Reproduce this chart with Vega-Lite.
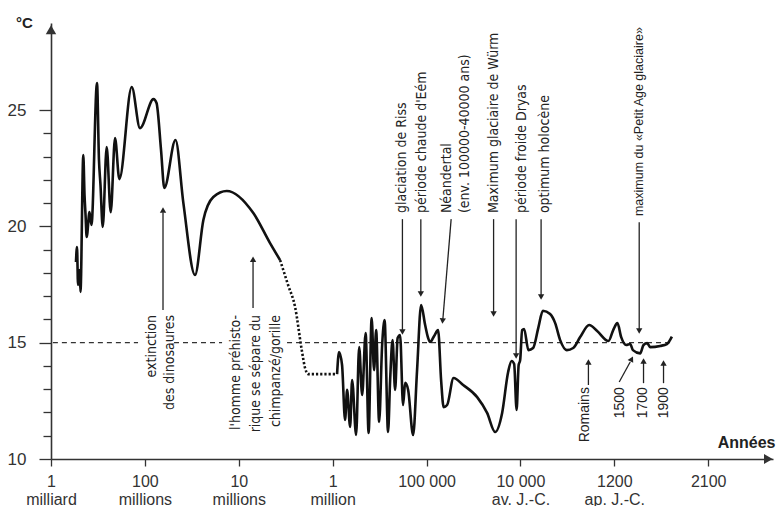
{
  "$schema": "https://vega.github.io/schema/vega-lite/v6.json",
  "width": 722,
  "height": 436,
  "autosize": {"type": "none"},
  "padding": {"left": 51, "top": 23, "right": 7, "bottom": 47},
  "background": "white",
  "config": {"view": {"stroke": null}, "font": "Liberation Sans"},
  "datasets": {
    "curve": [
      {"x":0.266,"t":18.47,"seg":"a"},{"x":0.277,"t":19.11,"seg":"a"},{"x":0.288,"t":17.48,"seg":"a"},{"x":0.304,"t":18.12,"seg":"a"},{"x":0.314,"t":17.18,"seg":"a"},{"x":0.344,"t":23.06,"seg":"a"},{"x":0.357,"t":21.35,"seg":"a"},{"x":0.368,"t":20.49,"seg":"a"},{"x":0.380,"t":19.54,"seg":"a"},{"x":0.410,"t":20.61,"seg":"a"},{"x":0.431,"t":20.06,"seg":"a"},{"x":0.490,"t":26.16,"seg":"a"},{"x":0.511,"t":22.85,"seg":"a"},{"x":0.527,"t":21.78,"seg":"a"},{"x":0.551,"t":19.97,"seg":"a"},{"x":0.593,"t":23.41,"seg":"a"},{"x":0.636,"t":20.61,"seg":"a"},{"x":0.682,"t":23.79,"seg":"a"},{"x":0.728,"t":22.03,"seg":"a"},{"x":0.860,"t":25.99,"seg":"a"},{"x":0.948,"t":24.22,"seg":"a"},{"x":1.092,"t":25.47,"seg":"a"},{"x":1.124,"t":25.30,"seg":"a"},{"x":1.172,"t":23.28,"seg":"a"},{"x":1.207,"t":21.65,"seg":"a"},{"x":1.326,"t":23.71,"seg":"a"},{"x":1.410,"t":21.00,"seg":"a"},{"x":1.534,"t":17.91,"seg":"a"},{"x":1.623,"t":20.27,"seg":"a"},{"x":1.729,"t":21.26,"seg":"a"},{"x":1.872,"t":21.52,"seg":"a"},{"x":2.155,"t":20.57,"seg":"a"},{"x":2.333,"t":19.28,"seg":"a"},{"x":2.440,"t":18.55,"seg":"a"},
      {"x":2.440,"t":18.55,"seg":"b"},{"x":2.525,"t":17.48,"seg":"b"},{"x":2.600,"t":16.53,"seg":"b"},{"x":2.671,"t":14.68,"seg":"b"},{"x":2.706,"t":13.91,"seg":"b"},{"x":2.738,"t":13.65,"seg":"b"},{"x":3.047,"t":13.65,"seg":"b"},
      {"x":3.047,"t":13.65,"seg":"c"},{"x":3.068,"t":14.60,"seg":"c"},{"x":3.100,"t":14.04,"seg":"c"},{"x":3.132,"t":11.68,"seg":"c"},{"x":3.154,"t":12.97,"seg":"c"},{"x":3.186,"t":11.38,"seg":"c"},{"x":3.207,"t":13.39,"seg":"c"},{"x":3.250,"t":11.03,"seg":"c"},{"x":3.282,"t":14.81,"seg":"c"},{"x":3.314,"t":12.75,"seg":"c"},{"x":3.351,"t":15.41,"seg":"c"},{"x":3.383,"t":11.12,"seg":"c"},{"x":3.415,"t":16.06,"seg":"c"},{"x":3.441,"t":13.82,"seg":"c"},{"x":3.463,"t":15.54,"seg":"c"},{"x":3.495,"t":11.59,"seg":"c"},{"x":3.527,"t":14.90,"seg":"c"},{"x":3.553,"t":15.97,"seg":"c"},{"x":3.590,"t":11.16,"seg":"c"},{"x":3.612,"t":13.39,"seg":"c"},{"x":3.638,"t":15.11,"seg":"c"},{"x":3.665,"t":12.97,"seg":"c"},{"x":3.692,"t":15.20,"seg":"c"},{"x":3.718,"t":15.33,"seg":"c"},{"x":3.750,"t":12.32,"seg":"c"},{"x":3.772,"t":13.27,"seg":"c"},{"x":3.804,"t":12.97,"seg":"c"},{"x":3.857,"t":11.03,"seg":"c"},{"x":3.899,"t":13.82,"seg":"c"},{"x":3.942,"t":16.62,"seg":"c"},{"x":3.985,"t":15.76,"seg":"c"},{"x":4.017,"t":15.20,"seg":"c"},{"x":4.038,"t":15.03,"seg":"c"},{"x":4.081,"t":15.29,"seg":"c"},{"x":4.123,"t":15.54,"seg":"c"},{"x":4.155,"t":13.39,"seg":"c"},{"x":4.182,"t":12.23,"seg":"c"},{"x":4.219,"t":12.32,"seg":"c"},{"x":4.288,"t":13.48,"seg":"c"},{"x":4.390,"t":13.18,"seg":"c"},{"x":4.539,"t":12.66,"seg":"c"},{"x":4.645,"t":11.98,"seg":"c"},{"x":4.730,"t":11.16,"seg":"c"},{"x":4.805,"t":11.98,"seg":"c"},{"x":4.869,"t":13.74,"seg":"c"},{"x":4.906,"t":14.21,"seg":"c"},{"x":4.933,"t":14.08,"seg":"c"},{"x":4.959,"t":12.11,"seg":"c"},{"x":4.981,"t":14.04,"seg":"c"},{"x":4.997,"t":14.25,"seg":"c"},{"x":5.018,"t":15.54,"seg":"c"},{"x":5.039,"t":15.59,"seg":"c"},{"x":5.085,"t":14.68,"seg":"c"},{"x":5.135,"t":14.77,"seg":"c"},{"x":5.192,"t":15.67,"seg":"c"},{"x":5.239,"t":16.37,"seg":"c"},{"x":5.316,"t":16.23,"seg":"c"},{"x":5.370,"t":15.84,"seg":"c"},{"x":5.423,"t":15.11,"seg":"c"},{"x":5.494,"t":14.68,"seg":"c"},{"x":5.562,"t":14.77,"seg":"c"},{"x":5.636,"t":15.24,"seg":"c"},{"x":5.732,"t":15.76,"seg":"c"},{"x":5.817,"t":15.50,"seg":"c"},{"x":5.938,"t":15.07,"seg":"c"},{"x":5.988,"t":15.54,"seg":"c"},{"x":6.033,"t":15.84,"seg":"c"},{"x":6.073,"t":15.24,"seg":"c"},{"x":6.126,"t":14.90,"seg":"c"},{"x":6.169,"t":14.94,"seg":"c"},{"x":6.198,"t":14.68,"seg":"c"},{"x":6.275,"t":14.54,"seg":"c"},{"x":6.311,"t":14.90,"seg":"c"},{"x":6.350,"t":14.98,"seg":"c"},{"x":6.382,"t":14.81,"seg":"c"},{"x":6.489,"t":14.86,"seg":"c"},{"x":6.560,"t":14.94,"seg":"c"},{"x":6.613,"t":15.26,"seg":"c"}
    ],
    "ref15": [
      {"x":0.02,"x2":0.927,"t":15},
      {"x":1.310,"x2":1.822,"t":15},
      {"x":2.514,"x2":6.62,"t":15}
    ],
    "arrows": [
      {"x":1.193,"t":16.40,"x2":1.193,"t2":20.60},
      {"x":2.152,"t":16.49,"x2":2.152,"t2":18.50},
      {"x":3.743,"t":20.31,"x2":3.743,"t2":15.55},
      {"x":3.939,"t":20.31,"x2":3.939,"t2":17.15},
      {"x":4.262,"t":20.31,"x2":4.174,"t2":16.02},
      {"x":4.714,"t":20.31,"x2":4.714,"t2":16.30},
      {"x":4.954,"t":20.31,"x2":4.954,"t2":14.50},
      {"x":5.220,"t":20.31,"x2":5.220,"t2":17.02},
      {"x":6.265,"t":20.18,"x2":6.265,"t2":15.58},
      {"x":5.724,"t":13.18,"x2":5.724,"t2":14.08},
      {"x":6.052,"t":13.31,"x2":6.169,"t2":14.17},
      {"x":6.311,"t":13.26,"x2":6.311,"t2":14.15},
      {"x":6.524,"t":13.26,"x2":6.524,"t2":14.07}
    ],
    "heads": [
      {"x":1.193,"t":20.70,"dir":"up"},
      {"x":2.152,"t":18.59,"dir":"up"},
      {"x":3.743,"t":15.46,"dir":"down"},
      {"x":3.939,"t":17.09,"dir":"down"},
      {"x":4.714,"t":16.23,"dir":"down"},
      {"x":4.954,"t":14.43,"dir":"down"},
      {"x":5.220,"t":16.96,"dir":"down"},
      {"x":6.265,"t":15.50,"dir":"down"},
      {"x":5.724,"t":14.17,"dir":"up"},
      {"x":6.311,"t":14.21,"dir":"up"},
      {"x":6.524,"t":14.13,"dir":"up"}
    ],
    "labelsLow": [
      {"x":1.076,"t":16.19,"label":"extinction"},
      {"x":1.268,"t":16.19,"label":"des dinosaures"},
      {"x":1.971,"t":16.19,"label":"l'homme préhisto-"},
      {"x":2.184,"t":16.19,"label":"rique se sépare du"},
      {"x":2.397,"t":16.19,"label":"chimpanzé/gorille"}
    ],
    "labelsHigh": [
      {"x":3.740,"t":20.57,"label":"glaciation de Riss"},
      {"x":3.953,"t":20.57,"label":"période chaude d'Eém"},
      {"x":4.219,"t":20.57,"label":"Néandertal"},
      {"x":4.411,"t":20.57,"label":"(env. 100000-40000 ans)"},
      {"x":4.720,"t":20.57,"label":"Maximum glaciaire de Würm"},
      {"x":5.018,"t":20.57,"label":"période froide Dryas"},
      {"x":5.263,"t":20.57,"label":"optimum holocène"}
    ],
    "labelsRecent": [
      {"x":5.689,"t":13.09,"label":"Romains"},
      {"x":6.062,"t":13.09,"label":"1500"},
      {"x":6.307,"t":13.09,"label":"1700"},
      {"x":6.531,"t":13.09,"label":"1900"}
    ],
    "labelPAG": [
      {"x":6.265,"t":20.44,"label":"maximum du «Petit Age glaciaire»"}
    ]
  },
  "encoding": {
    "x": {
      "field": "x", "type": "quantitative",
      "scale": {"domain": [0, 7.69], "nice": false, "zero": false},
      "axis": {
        "values": [0,1,2,3,4,5,6,7],
        "labelExpr": "[['1','milliard'],['100','millions'],['10','millions'],['1','million'],['100 000'],['10 000','av. J.-C.'],['1200','ap. J.-C.'],['2100']][datum.value]",
        "grid": false, "tickSize": 7, "tickColor": "#333", "tickWidth": 1.3,
        "domainColor": "#333", "domainWidth": 1.6,
        "labelFont": "Liberation Sans", "labelFontSize": 16, "labelColor": "#333",
        "labelPadding": 7, "labelLineHeight": 18, "labelFlush": false, "labelOverlap": false,
        "title": "Années", "titleX": 724, "titleY": -12, "titleAlign": "right", "titleBaseline": "alphabetic",
        "titleFont": "Liberation Sans", "titleFontSize": 16, "titleFontWeight": "bold", "titleColor": "#222"
      }
    },
    "y": {
      "field": "t", "type": "quantitative",
      "scale": {"domain": [10, 28.74], "nice": false, "zero": false},
      "axis": {
        "values": [10,11,12,13,14,15,16,17,18,19,20,21,22,23,24,25],
        "labelExpr": "datum.value % 5 === 0 ? datum.label : ''",
        "grid": false,
        "tickSize": {"condition": {"test": "datum.value % 5 === 0", "value": 12}, "value": 8},
        "tickColor": "#333", "tickWidth": 1.3,
        "domainColor": "#333", "domainWidth": 1.6,
        "labelFont": "Liberation Sans", "labelFontSize": 17, "labelColor": "#333", "labelPadding": 13,
        "title": "°C", "titleX": -27, "titleY": 4, "titleAngle": 0, "titleAlign": "center", "titleBaseline": "alphabetic",
        "titleFont": "Liberation Sans", "titleFontSize": 15, "titleFontWeight": "bold", "titleColor": "#222"
      }
    }
  },
  "layer": [
    {
      "data": {"name": "ref15"},
      "mark": {"type": "rule", "color": "#333", "strokeWidth": 1.2, "strokeDash": [5, 4]},
      "encoding": {"x2": {"field": "x2"}}
    },
    {
      "data": {"name": "curve"},
      "transform": [{"filter": "datum.seg !== 'b'"}],
      "mark": {"type": "line", "color": "#111", "strokeWidth": 2.6, "interpolate": "monotone"},
      "encoding": {"detail": {"field": "seg"}}
    },
    {
      "data": {"name": "curve"},
      "transform": [{"filter": "datum.seg === 'b'"}],
      "mark": {"type": "line", "color": "#111", "strokeWidth": 2.6, "strokeDash": [2.2, 2], "interpolate": "monotone"},
      "encoding": {}
    },
    {
      "data": {"name": "arrows"},
      "mark": {"type": "rule", "color": "#222", "strokeWidth": 1.3},
      "encoding": {"x2": {"field": "x2"}, "y2": {"field": "t2"}}
    },
    {
      "data": {"name": "heads"},
      "mark": {"type": "point", "filled": true, "color": "#222", "size": 40, "opacity": 1},
      "encoding": {"shape": {"field": "dir", "type": "nominal", "scale": {"domain": ["up", "down", "right"], "range": ["triangle-up", "triangle-down", "triangle-right"]}, "legend": null}}
    },
    {
      "data": {"values": [{"x": 4.171, "t": 15.93}]},
      "mark": {"type": "point", "shape": "triangle-down", "filled": true, "color": "#222", "size": 40, "opacity": 1, "angle": 5},
      "encoding": {}
    },
    {
      "data": {"values": [{"x": 6.185, "t": 14.30}]},
      "mark": {"type": "point", "shape": "triangle-up", "filled": true, "color": "#222", "size": 40, "opacity": 1, "angle": 28},
      "encoding": {}
    },
    {
      "data": {"values": [{"x": 0, "t": 28.45}]},
      "mark": {"type": "point", "shape": "triangle-up", "filled": true, "color": "#333", "size": 110, "opacity": 1, "clip": false},
      "encoding": {}
    },
    {
      "data": {"values": [{"x": 7.64, "t": 10}]},
      "mark": {"type": "point", "shape": "triangle-right", "filled": true, "color": "#333", "size": 100, "opacity": 1, "clip": false},
      "encoding": {}
    },
    {
      "data": {"name": "labelsLow"},
      "mark": {"type": "text", "angle": 270, "align": "right", "baseline": "middle", "font": "DejaVu Sans Condensed, Roboto Condensed, Lato, sans-serif", "fontSize": 14, "color": "#222"},
      "encoding": {"text": {"field": "label"}}
    },
    {
      "data": {"name": "labelsHigh"},
      "mark": {"type": "text", "angle": 270, "align": "left", "baseline": "middle", "font": "DejaVu Sans Condensed, Roboto Condensed, Lato, sans-serif", "fontSize": 14, "color": "#222"},
      "encoding": {"text": {"field": "label"}}
    },
    {
      "data": {"name": "labelsRecent"},
      "mark": {"type": "text", "angle": 270, "align": "right", "baseline": "middle", "font": "Liberation Sans", "fontSize": 14, "color": "#222"},
      "encoding": {"text": {"field": "label"}}
    },
    {
      "data": {"name": "labelPAG"},
      "mark": {"type": "text", "angle": 270, "align": "left", "baseline": "middle", "font": "Liberation Sans", "fontSize": 12.5, "color": "#222"},
      "encoding": {"text": {"field": "label"}}
    }
  ]
}
